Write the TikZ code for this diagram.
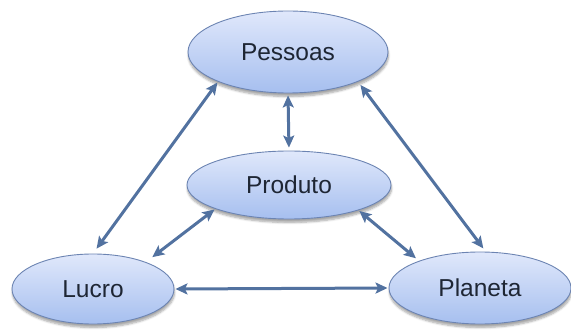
\documentclass[tikz,border=0pt]{standalone}
\usepackage{fontspec}
\setmainfont{Liberation Sans}
\usetikzlibrary{shapes.geometric,arrows.meta,shadows.blur}
\definecolor{linkblue}{RGB}{82,114,160}
\definecolor{rimblue}{RGB}{108,132,178}
\definecolor{topfill}{RGB}{224,232,251}
\definecolor{botfill}{RGB}{166,191,239}
\definecolor{labeltext}{RGB}{30,38,52}
\tikzset{
  bubble/.style={ellipse, inner sep=0pt, draw=rimblue, line width=0.9pt,
    top color=topfill, bottom color=botfill, text=labeltext,
    font=\fontsize{24.5}{28}\selectfont,
    blur shadow={shadow xshift=0.5pt, shadow yshift=-3.5pt, shadow blur steps=6, shadow opacity=35}},
  link/.style={draw=linkblue, line width=3pt,
    {Stealth[length=12pt,width=11pt,inset=2.5pt]}-{Stealth[length=12pt,width=11pt,inset=2.5pt]}}
}
\begin{document}
\begin{tikzpicture}[x=1pt,y=-1pt]
  \useasboundingbox (0,0) rectangle (571,331);
  % the four topics
  \node[bubble, minimum width=200pt, minimum height=82pt] (pes) at (288,52) {Pessoas};
  \node[bubble, minimum width=204pt, minimum height=68pt] (pro) at (289,185) {Produto};
  \node[bubble, minimum width=162pt, minimum height=70pt] (luc) at (93,289) {Lucro};
  \node[bubble, minimum width=182pt, minimum height=72pt] (pla) at (480,288) {Planeta};
  % two-way links between them
  \draw[link, shorten <=1pt, shorten >=6pt] (pes.203.6) -- (luc.90);
  \draw[link, shorten <=4pt, shorten >=4pt] (pes.337.5) -- (pla.81);
  \draw[link, shorten <=2pt, shorten >=3pt] (pes.south) -- (pro.north);
  \draw[link, shorten <=1pt, shorten >=8pt] (pro.198.7) -- (luc.27);
  \draw[link, shorten <=1pt, shorten >=4pt] (pro.340) -- (pla.156);
  \draw[link, shorten <=1pt, shorten >=1pt] (luc.east) -- (pla.west);
\end{tikzpicture}
\end{document}
